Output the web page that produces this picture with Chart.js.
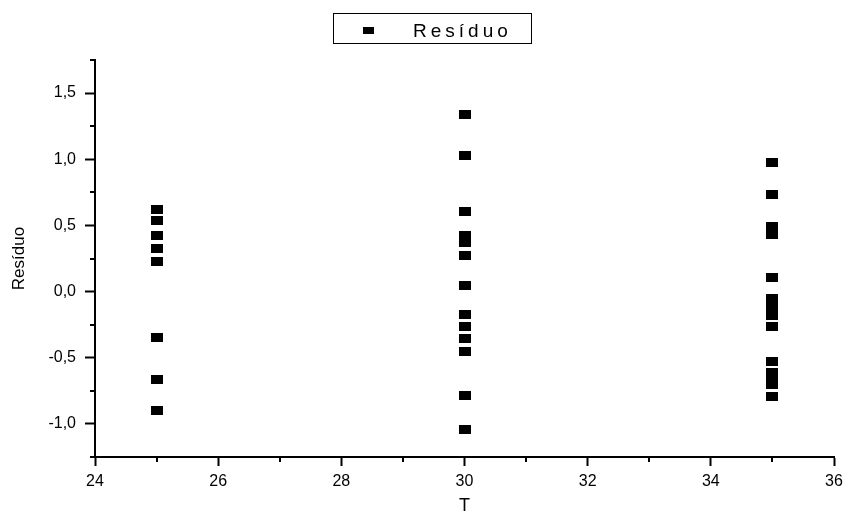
<!DOCTYPE html>
<html>
<head>
<meta charset="utf-8">
<script src="https://cdn.jsdelivr.net/npm/chart.js@4"></script>
<style>
  html, body { margin: 0; padding: 0; background: #fff; }
  #wrap { width: 846px; height: 514px; }
</style>
</head>
<body>
<div id="wrap"><canvas id="myChart"></canvas></div>
<script>
const temperatures = [25, 30, 35];
const residuo25 = [0.618, 0.538, 0.427, 0.328, 0.228, -0.350, -0.663, -0.902];
const residuo30 = [1.337, 1.026, 0.608, 0.427, 0.370, 0.275, 0.046, -0.173, -0.262, -0.358, -0.453, -0.784, -1.043];
const residuo35 = [0.977, 0.737, 0.492, 0.432, 0.104, -0.055, -0.110, -0.184, -0.262, -0.530, -0.615, -0.657, -0.700, -0.791];
const xTicks = [24, 26, 28, 30, 32, 34, 36];
const xMinorTicks = [25, 27, 29, 31, 33, 35];
const yTicks = [-1.0, -0.5, 0.0, 0.5, 1.0, 1.5];
const yMinorTicks = [-1.25, -0.75, -0.25, 0.25, 0.75, 1.25, 1.75];

const FONT = "'Liberation Sans', Arial, sans-serif";

const makeMarker = (w, h) => {
  const c = document.createElement("canvas");
  c.width = w;
  c.height = h;
  const cx = c.getContext("2d");
  cx.fillStyle = "#000";
  cx.fillRect(0, 0, w, h);
  return c;
};

const pointMarker = makeMarker(12, 9);
const legendMarker = makeMarker(11, 7);

const buildPoints = () => {
  const series = [residuo25, residuo30, residuo35];
  const points = [];
  series.forEach((values, i) => {
    values.forEach((v) => points.push({ x: temperatures[i], y: v }));
  });
  return points;
};

// ticks menores (mais curtos) desenhados pelas escalas do Chart.js
const minorTicks = {
  id: "minorTicks",
  afterDraw(chart) {
    const ctx = chart.ctx;
    const xs = chart.scales.x;
    const ys = chart.scales.y;
    ctx.save();
    ctx.strokeStyle = "#000";
    ctx.lineWidth = 2;
    ctx.beginPath();
    xMinorTicks.forEach((v) => {
      const px = Math.round(xs.getPixelForValue(v));
      ctx.moveTo(px, xs.top);
      ctx.lineTo(px, xs.top + 5);
    });
    yMinorTicks.forEach((v) => {
      const py = Math.round(ys.getPixelForValue(v));
      ctx.moveTo(ys.right, py);
      ctx.lineTo(ys.right - 5, py);
    });
    ctx.stroke();
    ctx.restore();
  },
};

// legenda com moldura, como no original
const legendBox = {
  id: "legendBox",
  afterDraw(chart) {
    const ctx = chart.ctx;
    ctx.save();
    ctx.strokeStyle = "#000";
    ctx.lineWidth = 1;
    ctx.strokeRect(333.5, 13.5, 198, 30);
    ctx.drawImage(legendMarker, 363, 27);
    ctx.fillStyle = "#000";
    ctx.font = `19px ${FONT}`;
    ctx.letterSpacing = "4px";
    ctx.textBaseline = "alphabetic";
    ctx.fillText(chart.data.datasets[0].label, 413, 37);
    ctx.restore();
  },
};

const formatTick = (v) => v.toFixed(1).replace(".", ",");

const config = {
  type: "scatter",
  data: {
    datasets: [
      {
        label: "Resíduo",
        data: buildPoints(),
        pointStyle: pointMarker,
        backgroundColor: "#000",
        borderColor: "#000",
      },
    ],
  },
  options: {
    responsive: true,
    maintainAspectRatio: false,
    animation: false,
    layout: { padding: { top: 60, right: 12, left: 0, bottom: 0 } },
    plugins: {
      legend: { display: false },
      tooltip: { enabled: false },
    },
    scales: {
      x: {
        type: "linear",
        min: 24,
        max: 36,
        afterBuildTicks: (scale) => {
          scale.ticks = xTicks.map((v) => ({ value: v }));
        },
        afterFit: (scale) => {
          scale.height = 57;
          scale.paddingRight = 0;
          scale.paddingLeft = 0;
        },
        grid: {
          drawOnChartArea: false,
          drawTicks: true,
          tickLength: 9,
          tickWidth: 2,
          tickColor: "#000",
        },
        border: { display: true, color: "#000", width: 2 },
        ticks: {
          color: "#000",
          font: { family: FONT, size: 16 },
          padding: 6,
          maxRotation: 0,
          autoSkip: false,
        },
        title: {
          display: true,
          text: "T",
          color: "#000",
          font: { family: FONT, size: 18 },
          padding: { top: 0, bottom: -3 },
        },
      },
      y: {
        type: "linear",
        min: -1.25,
        max: 1.75,
        afterBuildTicks: (scale) => {
          scale.ticks = yTicks.map((v) => ({ value: v }));
        },
        afterFit: (scale) => {
          scale.width = 95;
        },
        grid: {
          drawOnChartArea: false,
          drawTicks: true,
          tickLength: 10,
          tickWidth: 2,
          tickColor: "#000",
        },
        border: { display: true, color: "#000", width: 2 },
        ticks: {
          color: "#000",
          font: { family: FONT, size: 16 },
          padding: 9,
          callback: (v) => formatTick(v),
        },
        title: {
          display: true,
          text: "Resíduo",
          color: "#000",
          font: { family: FONT, size: 17 },
          padding: { top: 9, bottom: 0 },
        },
      },
    },
  },
  plugins: [minorTicks, legendBox],
};

new Chart(document.getElementById("myChart"), config);
</script>
</body>
</html>
